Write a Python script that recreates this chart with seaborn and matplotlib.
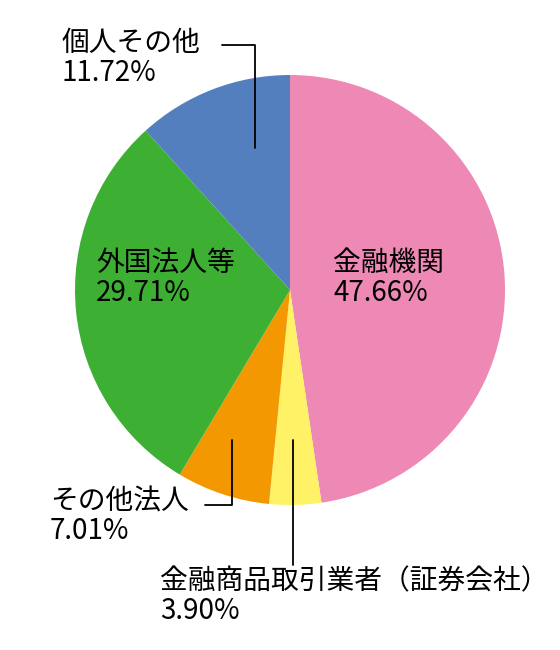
import matplotlib.pyplot as plt
import seaborn as sns

sns.set_theme(style="white")
plt.rcParams['font.family'] = ['Noto Sans CJK JP', 'DejaVu Sans']

# Shareholder categories (clockwise from top)
labels = ["金融機関", "金融商品取引業者（証券会社）", "その他法人", "外国法人等", "個人その他"]
shares = [47.66, 3.90, 7.01, 29.71, 11.72]
colors = ["#EE88B4", "#FFF266", "#F39800", "#3DB034", "#537FBF"]

fig = plt.figure(figsize=(5.6, 6.5), dpi=100)
ax = fig.add_axes([0, 0, 1, 1])

# pixel-based axes, y inverted -> counterclock=True draws clockwise on screen
ax.pie(shares, colors=colors, startangle=-90, counterclock=True,
       center=(290, 290), radius=215, frame=True,
       wedgeprops={"linewidth": 0})
ax.set_xlim(0, 560)
ax.set_ylim(650, 0)
ax.set_aspect("equal")
ax.axis("off")

fs = 20
def lab(x, y, i):
    ax.text(x, y, f"{labels[i]}\n{shares[i]:.2f}%", fontsize=fs, ha="left", va="top",
            linespacing=1.0, color="black")

lab(333, 248, 0)
lab(96, 248, 3)
lab(62, 28, 4)
lab(50, 486, 2)
lab(160, 566, 1)

# leader lines
ax.plot([222, 255, 255], [45, 45, 148], color="black", lw=1.3)
ax.plot([205, 232, 232], [505, 505, 440], color="black", lw=1.3)
ax.plot([293, 293], [440, 565], color="black", lw=1.3)

fig.savefig("out.png", dpi=100)
